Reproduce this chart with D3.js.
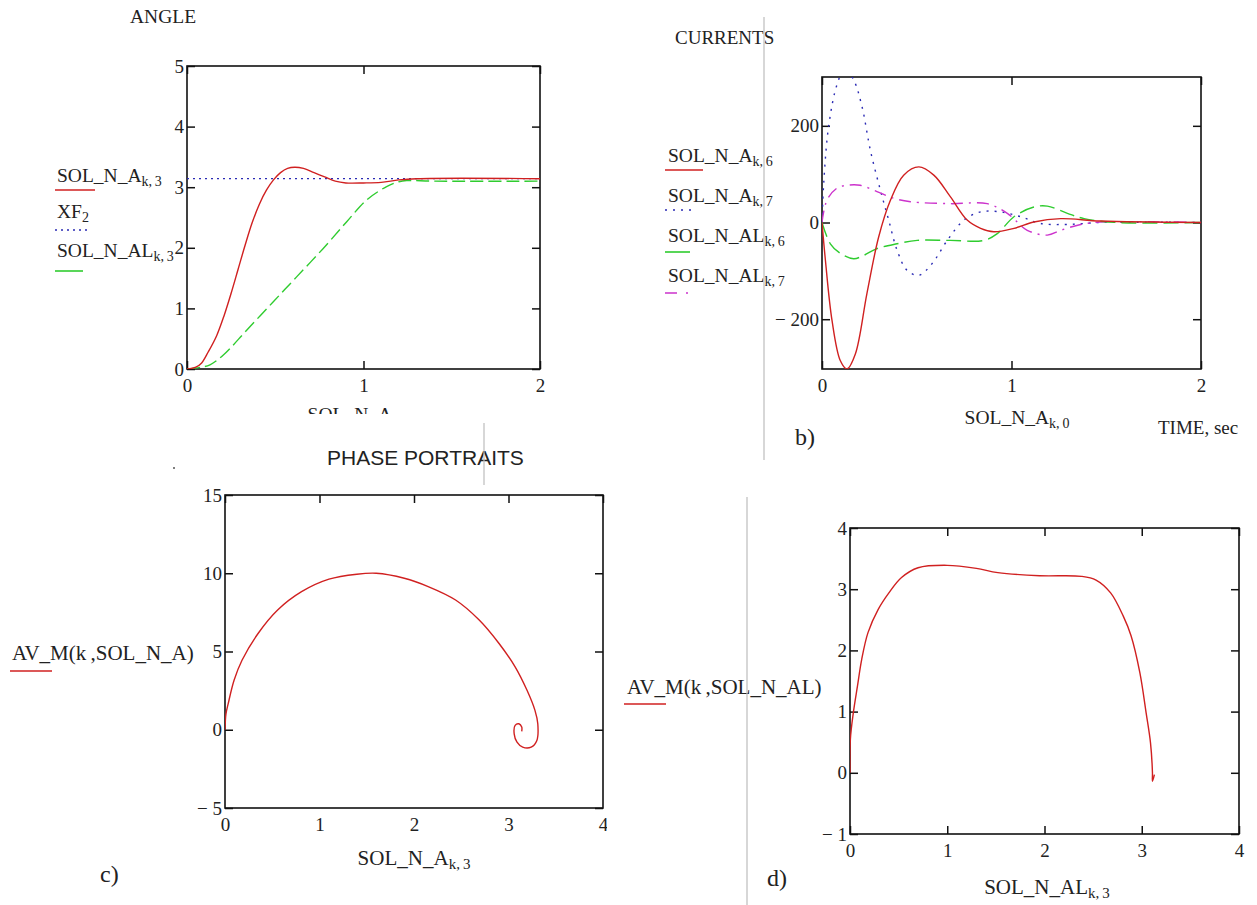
<!DOCTYPE html>
<html>
<head>
<meta charset="utf-8">
<script src="https://cdn.jsdelivr.net/npm/d3@7"></script>
<style>
  body { margin: 0; background: #fff; }
  svg { display: block; }
  text { fill: #222; }
</style>
</head>
<body>
<script>
const width = 1257,
  height = 905;

// ---------- data ----------
// a) ANGLE
const angleA_t = [0, 0.05, 0.083, 0.12, 0.168, 0.21, 0.25, 0.29, 0.33, 0.37, 0.41, 0.45, 0.49, 0.53, 0.57, 0.61, 0.66, 0.72, 0.78, 0.84, 0.9, 1.0, 1.1, 1.2, 1.3, 2.0];
const angleA_v = [0, 0.03, 0.1, 0.28, 0.55, 0.88, 1.25, 1.65, 2.05, 2.42, 2.72, 2.95, 3.12, 3.24, 3.31, 3.33, 3.31, 3.24, 3.17, 3.1, 3.07, 3.07, 3.08, 3.12, 3.14, 3.14];
const angleAL_t = [0, 0.08, 0.13, 0.206, 0.338, 0.489, 0.621, 0.772, 0.905, 1.018, 1.131, 1.2, 1.245, 1.4, 2.0];
const angleAL_v = [0, 0.03, 0.07, 0.23, 0.64, 1.11, 1.52, 1.99, 2.43, 2.79, 3.01, 3.09, 3.11, 3.1, 3.1];
const xf2_t = [0, 2];
const xf2_v = [3.1416, 3.1416];

// b) CURRENTS
const curA6_t = [0, 0.018, 0.053, 0.097, 0.132, 0.176, 0.237, 0.299, 0.361, 0.431, 0.511, 0.59, 0.678, 0.766, 0.837, 0.907, 1.013, 1.118, 1.26, 1.47, 2.0];
const curA6_v = [0, -78, -203, -286, -303, -272, -147, -30, 46, 98, 115, 98, 53, 5, -12, -19, -12, 1, 8, 3, 0];
const curA7_t = [0, 0.009, 0.035, 0.079, 0.12, 0.167, 0.211, 0.255, 0.308, 0.352, 0.396, 0.449, 0.511, 0.581, 0.661, 0.749, 0.837, 0.942, 1.048, 1.154, 1.295, 1.47, 2.0];
const curA7_v = [0, 81, 199, 285, 318, 295, 240, 150, 67, 5, -57, -99, -109, -85, -37, 5, 22, 22, 12, -2, -4, 0, 0];
const curAL6_t = [0, 0.044, 0.097, 0.167, 0.22, 0.29, 0.396, 0.502, 0.678, 0.854, 0.925, 1.013, 1.118, 1.189, 1.295, 1.383, 1.559, 2.0];
const curAL6_v = [0, -44, -64, -75, -68, -54, -44, -37, -37, -37, -23, 12, 32, 34, 19, 8, 0, 0];
const curAL7_t = [0, 0.026, 0.079, 0.132, 0.202, 0.29, 0.379, 0.467, 0.678, 0.872, 0.978, 1.083, 1.189, 1.26, 1.365, 1.47, 2.0];
const curAL7_v = [0, 46, 71, 77, 77, 64, 50, 43, 39, 39, 19, -16, -26, -16, -4, 1, 0];

// c) phase portrait, SOL_N_A
const phaseA_x = [0, 0.01, 0.034, 0.096, 0.18, 0.35, 0.557, 0.81, 1.1, 1.395, 1.6, 1.897, 2.15, 2.44, 2.69, 2.9, 3.07, 3.196, 3.28, 3.31, 3.3, 3.24, 3.15, 3.09, 3.06, 3.07, 3.11, 3.14, 3.14];
const phaseA_y = [0, 1.0, 1.67, 3.16, 4.44, 6.15, 7.65, 8.82, 9.62, 9.94, 10.0, 9.68, 9.15, 8.29, 7.01, 5.51, 4.02, 2.52, 1.24, 0.38, -0.68, -1.11, -1.11, -0.79, -0.26, 0.28, 0.38, 0.17, -0.1];

// d) phase portrait, SOL_N_AL
const phaseAL_x = [0, 0.004, 0.034, 0.077, 0.12, 0.185, 0.29, 0.4, 0.53, 0.7, 1.0, 1.3, 1.52, 1.95, 2.38, 2.53, 2.68, 2.81, 2.89, 2.98, 3.045, 3.09, 3.11, 3.11, 3.13];
const phaseAL_y = [0, 0.55, 0.98, 1.42, 1.85, 2.29, 2.67, 2.94, 3.19, 3.35, 3.39, 3.34, 3.27, 3.22, 3.21, 3.15, 2.94, 2.56, 2.24, 1.64, 0.98, 0.49, 0, -0.14, -0.03];

// tick values
const ticks02 = [0, 1, 2];
const ticks04 = [0, 1, 2, 3, 4];
const angleTicks = [0, 1, 2, 3, 4, 5];
const currentTicks = [-200, 0, 200];
const phaseATicks = [-5, 0, 5, 10, 15];
const phaseALTicks = [-1, 0, 1, 2, 3, 4];

// colours / styles
const RED = "#d02020", BLUE = "#2a2ab4", GREEN = "#2fcc2f", MAGENTA = "#cc33cc";
const SERIF = "'Liberation Serif', 'Times New Roman', serif";
const SANS = "'Liberation Sans', Arial, sans-serif";

const svg = d3
  .select("body")
  .append("svg")
  .attr("width", width)
  .attr("height", height)
  .attr("font-family", SERIF);

svg.append("rect").attr("width", width).attr("height", height).attr("fill", "#fff");

const fmt = d => (d < 0 ? "\u2212 " + Math.abs(d) : d);
let clipId = 0;

function styleAxis(g) {
  g.select(".domain").remove();
  g.selectAll("line").attr("stroke", "#111").attr("stroke-width", 1.5);
  g.attr("font-family", SERIF).attr("font-size", 19);
  g.selectAll("text").attr("fill", "#222");
}

// box with inward ticks on all four sides, Mathcad style
function makePanel(p) {
  const x = d3.scaleLinear().domain(p.xDomain).range([p.left, p.right]);
  const y = d3.scaleLinear().domain(p.yDomain).range([p.bottom, p.top]);
  const g = svg.append("g");

  const bottomAxis = g
    .append("g")
    .attr("transform", `translate(0,${p.bottom})`)
    .call(d3.axisBottom(x).tickValues(p.xTicks).tickSize(-8).tickPadding(10).tickFormat(fmt))
    .call(styleAxis);
  if (p.labelClipX) {
    const id = "lc" + clipId++;
    svg.append("clipPath").attr("id", id).append("rect")
      .attr("x", 0).attr("y", 0).attr("width", p.labelClipX).attr("height", height);
    bottomAxis.attr("clip-path", `url(#${id})`);
  }
  g.append("g")
    .attr("transform", `translate(0,${p.top})`)
    .call(d3.axisTop(x).tickValues(p.xTicks).tickSize(-8).tickFormat(""))
    .call(styleAxis);
  g.append("g")
    .attr("transform", `translate(${p.left},0)`)
    .call(d3.axisLeft(y).tickValues(p.yTicks).tickSize(-8).tickPadding(3).tickFormat(fmt))
    .call(styleAxis);
  g.append("g")
    .attr("transform", `translate(${p.right},0)`)
    .call(d3.axisRight(y).tickValues(p.yTicks).tickSize(-8).tickFormat(""))
    .call(styleAxis);

  g.append("rect")
    .attr("x", p.left)
    .attr("y", p.top)
    .attr("width", p.right - p.left)
    .attr("height", p.bottom - p.top)
    .attr("fill", "none")
    .attr("stroke", "#111")
    .attr("stroke-width", 1.6);

  const id = "clip" + clipId++;
  svg.append("clipPath").attr("id", id).append("rect")
    .attr("x", p.left).attr("y", p.top)
    .attr("width", p.right - p.left).attr("height", p.bottom - p.top);
  const plot = g.append("g").attr("clip-path", `url(#${id})`);
  return { x, y, plot };
}

function drawSeries(panel, xs, ys, color, dash) {
  const line = d3
    .line()
    .x(d => panel.x(d[0]))
    .y(d => panel.y(d[1]))
    .curve(d3.curveCatmullRom.alpha(0.5));
  panel.plot
    .append("path")
    .datum(d3.zip(xs, ys))
    .attr("d", line)
    .attr("fill", "none")
    .attr("stroke", color)
    .attr("stroke-width", 1.4)
    .attr("stroke-dasharray", dash || null);
}

// text with a subscript, e.g. SOL_N_A k,3
function subText(parent, x, y, main, sub, size, anchor) {
  const t = parent
    .append("text")
    .attr("x", x)
    .attr("y", y)
    .attr("font-size", size)
    .attr("text-anchor", anchor || "start");
  t.append("tspan").text(main);
  if (sub) t.append("tspan").attr("font-size", Math.round(size * 0.72)).attr("dy", 4).text(sub);
  return t;
}

function plainText(x, y, txt, size) {
  return svg.append("text").attr("x", x).attr("y", y).attr("font-size", size).text(txt);
}

function legendLine(x1, x2, y, color, dash) {
  svg.append("line")
    .attr("x1", x1).attr("x2", x2).attr("y1", y).attr("y2", y)
    .attr("stroke", color).attr("stroke-width", 1.6)
    .attr("stroke-dasharray", dash || null);
}

// ---------- a) ANGLE ----------
const pa = makePanel({
  left: 187, right: 540, top: 66, bottom: 369,
  xDomain: [0, 2], yDomain: [0, 5], xTicks: ticks02, yTicks: angleTicks
});
drawSeries(pa, xf2_t, xf2_v, BLUE, "2,4");
drawSeries(pa, angleAL_t, angleAL_v, GREEN, "13,5");
drawSeries(pa, angleA_t, angleA_v, RED);

plainText(130, 23, "ANGLE", 19.5);
subText(svg, 57, 182, "SOL_N_A", "k,\u20093", 19.5);
legendLine(55, 95, 190, RED);
subText(svg, 57, 218, "XF", "2", 19.5);
legendLine(55, 88, 230, BLUE, "2,4");
subText(svg, 57, 257, "SOL_N_AL", "k,\u20093", 19.5);
legendLine(55, 83, 271, GREEN);

// x label of a), cut off in the original
svg.append("clipPath").attr("id", "aLabelClip").append("rect")
  .attr("x", 0).attr("y", 0).attr("width", width).attr("height", 414);
subText(svg.append("g").attr("clip-path", "url(#aLabelClip)"), 360, 421, "SOL_N_A", "k,\u20090", 19.5, "middle");

// ---------- b) CURRENTS ----------
const pb = makePanel({
  left: 822, right: 1201, top: 77, bottom: 369,
  xDomain: [0, 2], yDomain: [-303, 301], xTicks: ticks02, yTicks: currentTicks
});
drawSeries(pb, curA7_t, curA7_v, BLUE, "2,6");
drawSeries(pb, curAL7_t, curAL7_v, MAGENTA, "12,6,2,6");
drawSeries(pb, curAL6_t, curAL6_v, GREEN, "15,6");
drawSeries(pb, curA6_t, curA6_v, RED);

plainText(675, 44, "CURRENTS", 19);
subText(svg, 668, 162, "SOL_N_A", "k,\u20096", 19.5);
legendLine(665, 703, 170, RED);
subText(svg, 668, 202, "SOL_N_A", "k,\u20097", 19.5);
legendLine(665, 696, 210, BLUE, "2,6");
subText(svg, 668, 242, "SOL_N_AL", "k,\u20096", 19.5);
legendLine(665, 690, 252, GREEN);
subText(svg, 668, 282, "SOL_N_AL", "k,\u20097", 19.5);
legendLine(665, 691, 293, MAGENTA, "12,9,2,9");

subText(svg, 1017, 424, "SOL_N_A", "k,\u20090", 19.5, "middle");
plainText(1158, 434, "TIME, sec", 19);
plainText(795, 445, "b)", 24);

// ---------- c) PHASE PORTRAITS, SOL_N_A ----------
svg.append("text")
  .attr("x", 327).attr("y", 465)
  .attr("font-size", 21)
  .attr("font-family", SANS)
  .attr("fill", "#333")
  .text("PHASE PORTRAITS");

const pc = makePanel({
  left: 225, right: 603, top: 495, bottom: 808,
  xDomain: [0, 4], yDomain: [-5, 15], xTicks: ticks04, yTicks: phaseATicks,
  labelClipX: 607
});
drawSeries(pc, phaseA_x, phaseA_y, RED);

plainText(12, 660, "AV_M(k\u2009,SOL_N_A)", 21);
legendLine(10, 52, 671, RED);
subText(svg, 414, 865, "SOL_N_A", "k,\u20093", 21, "middle");
plainText(100, 882, "c)", 24);

// ---------- d) PHASE PORTRAITS, SOL_N_AL ----------
const pd = makePanel({
  left: 850, right: 1239, top: 528, bottom: 834,
  xDomain: [0, 4], yDomain: [-1, 4], xTicks: ticks04, yTicks: phaseALTicks
});
drawSeries(pd, phaseAL_x, phaseAL_y, RED);

plainText(627, 694, "AV_M(k\u2009,SOL_N_AL)", 21);
legendLine(624, 666, 704, RED);
subText(svg, 1047, 894, "SOL_N_AL", "k,\u20093", 21, "middle");
plainText(767, 886, "d)", 24);

// thin grey separators of the original sheet
const sep = [
  [764, 17, 460],
  [484, 423, 485],
  [747, 497, 905]
];
sep.forEach(s =>
  svg.append("line")
    .attr("x1", s[0]).attr("x2", s[0]).attr("y1", s[1]).attr("y2", s[2])
    .attr("stroke", "#bdbdbd").attr("stroke-width", 1.2)
);
svg.append("circle").attr("cx", 174).attr("cy", 468).attr("r", 1).attr("fill", "#555");
</script>
</body>
</html>
